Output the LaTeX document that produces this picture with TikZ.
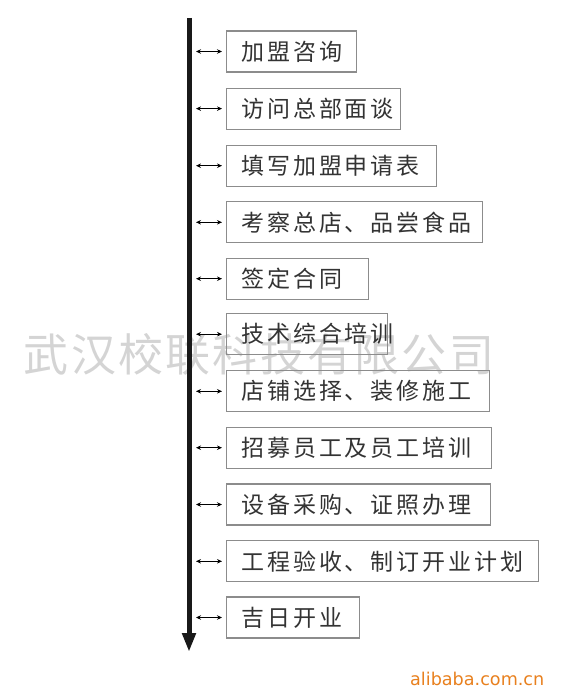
\documentclass[tikz,border=0pt]{standalone}
\usepackage{fontspec}
\newfontfamily\cjk[LetterSpace=13]{Noto Sans CJK SC}
\newfontfamily\cjkwm[LetterSpace=5]{Noto Sans CJK SC}
\newfontfamily\dv{DejaVu Sans}
\usetikzlibrary{arrows.meta}
\definecolor{boxgray}{HTML}{8C8C8C}
\definecolor{textgray}{HTML}{333333}
\definecolor{wmgray}{HTML}{D4D4D4}
\definecolor{aliorange}{HTML}{E8801E}
\begin{document}
\begin{tikzpicture}[x=1pt,y=-1pt,
  stepbox/.style={draw=boxgray, line width=1.1pt, anchor=west, minimum height=41pt,
    inner xsep=14.5pt, inner ysep=0pt, align=left, text=textgray,
    font=\cjk\fontsize{23}{27}\selectfont},
  mainline/.style={line width=5pt, draw=black!90, -{Triangle[length=19pt,width=13pt]}},
  link/.style={line width=0.8pt, draw=black, {Stealth[length=5pt,width=4.5pt]}-{Stealth[length=5pt,width=4.5pt]}, shorten >=4pt}
]
\useasboundingbox (0,0) rectangle (570,695);
% watermark
\node[text=wmgray, font=\cjkwm\fontsize{45}{50}\selectfont, inner sep=0pt] (wm) at (259,354) {武汉校联科技有限公司};
% main line
\coordinate (top) at (189,18);
\coordinate (bot) at (189,652);
\draw[mainline] (top) -- (bot);
% boxes
\node[stepbox, text width=101pt] (b1) at (226,51.5) {加盟咨询};
\node[stepbox, text width=145pt] (b2) at (226,108.6) {访问总部面谈};
\node[stepbox, text width=181pt] (b3) at (226,165.7) {填写加盟申请表};
\node[stepbox, text width=227pt] (b4) at (226,222.3) {考察总店、品尝食品};
\node[stepbox, text width=113pt] (b5) at (226,278.7) {签定合同};
\node[stepbox, text width=132pt] (b6) at (226,334.2) {技术综合培训};
\node[stepbox, text width=234pt] (b7) at (226,391.3) {店铺选择、装修施工};
\node[stepbox, text width=236pt] (b8) at (226,447.7) {招募员工及员工培训};
\node[stepbox, text width=235pt] (b9) at (226,504.5) {设备采购、证照办理};
\node[stepbox, text width=283pt] (b10) at (226,561.3) {工程验收、制订开业计划};
\node[stepbox, text width=104pt] (b11) at (226,617.5) {吉日开业};
% connectors
\foreach \i/\y in {1/51.5,2/108.6,3/165.7,4/222.3,5/278.7,6/334.2,7/391.3,8/447.7,9/504.5,10/561.3,11/617.5}{
  \coordinate (l\i) at (196,\y);
  \draw[link] (l\i) -- (b\i.west);
}
% footer
\node[anchor=base west, inner sep=0pt, text=aliorange, font=\dv\fontsize{17.6}{20}\selectfont] (ali) at (410,685) {alibaba.com.cn};
\end{tikzpicture}
\end{document}
